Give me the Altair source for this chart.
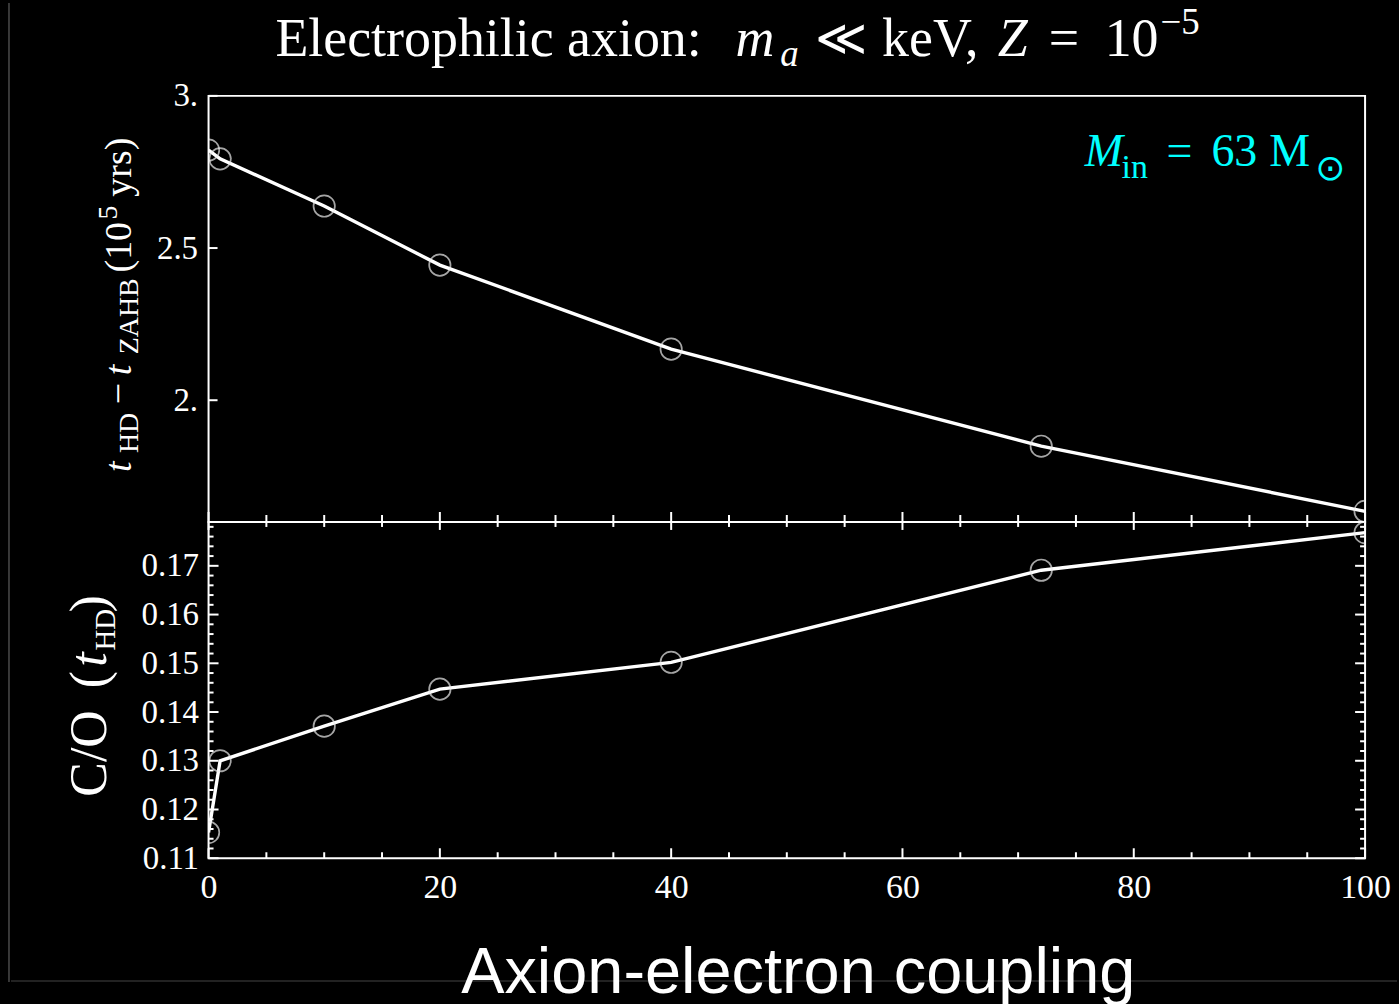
import altair as alt
import pandas as pd

# Axion-electron coupling values and the two quantities tracked per model
coupling = [0, 1, 10, 20, 40, 72, 100]
delta_t = [2.822, 2.793, 2.638, 2.444, 2.168, 1.849, 1.635]      # t_HD - t_ZAHB, 10^5 yr
c_over_o = [0.1153, 0.1300, 0.1371, 0.1447, 0.1502, 0.1691, 0.1768]  # C/O at t_HD

# Tick positions
x_major = [0, 20, 40, 60, 80, 100]
x_minor = [5, 10, 15, 25, 30, 35, 45, 50, 55, 65, 70, 75, 85, 90, 95]
top_y_major = [2.0, 2.5, 3.0]
bot_y_major = [0.11, 0.12, 0.13, 0.14, 0.15, 0.16, 0.17]
bot_y_minor = [0.112, 0.114, 0.116, 0.118, 0.122, 0.124, 0.126, 0.128,
               0.132, 0.134, 0.136, 0.138, 0.142, 0.144, 0.146, 0.148,
               0.152, 0.154, 0.156, 0.158, 0.162, 0.164, 0.166, 0.168,
               0.172, 0.174, 0.176, 0.178]

SERIF = "Liberation Serif"
SANS = "Liberation Sans"
W, H1, H2 = 1159, 427, 337

df = pd.DataFrame({"coupling": coupling, "delta_t": delta_t, "c_over_o": c_over_o})
one = pd.DataFrame({"k": [0]})

x_scale = alt.Scale(domain=[0, 100], nice=False, zero=False)
top_scale = alt.Scale(domain=[1.6, 3.0], nice=False, zero=False)
bot_scale = alt.Scale(domain=[0.11, 0.179], nice=False, zero=False)

label_style = dict(labelFont=SERIF, labelColor="white", ticks=False,
                   domain=False, grid=False, title=None, labelFlush=False)

# The same axis object is given to every layer sharing a scale, so that the
# layered axes merge cleanly.
top_y_axis = alt.Axis(values=top_y_major, labelPadding=11, labelFontSize=33,
                      labelExpr="replace(format(datum.value, '.1f'), '.0', '.')",
                      **label_style)
bot_x_axis = alt.Axis(values=x_major, format="d", labelPadding=12,
                      labelFontSize=34, **label_style)
bot_y_axis = alt.Axis(values=bot_y_major, format=".2f", labelPadding=10,
                      labelFontSize=33, **label_style)


def piece(text, x, y, size, italic=False, color="white", angle=0,
          align="left", font=SERIF):
    return alt.Chart(one).mark_text(
        text=text, fontSize=size, font=font, color=color, angle=angle,
        align=align, baseline="alphabetic",
        fontStyle="italic" if italic else "normal",
    ).encode(x=alt.value(x), y=alt.value(y))


def xrules(values, y1, y2, axis):
    d = pd.DataFrame({"v": values})
    return alt.Chart(d).mark_rule(color="white", strokeWidth=2).encode(
        x=alt.X("v:Q", scale=x_scale, axis=axis),
        y=alt.value(y1), y2=alt.value(y2))


def yrules(values, scale, x1, x2, axis):
    d = pd.DataFrame({"v": values})
    return alt.Chart(d).mark_rule(color="white", strokeWidth=2).encode(
        y=alt.Y("v:Q", scale=scale, axis=axis),
        x=alt.value(x1), x2=alt.value(x2))


def edge(x1, x2, y1, y2, color):
    return alt.Chart(one).mark_rule(color=color, strokeWidth=1.5).encode(
        x=alt.value(x1), x2=alt.value(x2), y=alt.value(y1), y2=alt.value(y2))


# ---------- upper panel: lifetime difference ----------
top_base = alt.Chart(df).encode(
    x=alt.X("coupling:Q", scale=x_scale, axis=None),
    y=alt.Y("delta_t:Q", scale=top_scale, axis=top_y_axis),
)
top_line = top_base.mark_line(color="white", strokeWidth=3.4, clip=True)
top_pts = top_base.mark_point(shape="circle", filled=False, size=460,
                              stroke="#ececec", strokeWidth=1.7, clip=True)

canvas = alt.Chart(one).mark_rule(strokeOpacity=0, strokeWidth=0).encode(
    x=alt.value(-208), x2=alt.value(1191), y=alt.value(-93), y2=alt.value(911))

title_parts = [
    piece("Electrophilic axion:", 67, -40, 54),
    piece("m", 528, -40, 54, italic=True),
    piece("a", 573, -30, 37, italic=True),
    piece("\u226a", 608, -41, 50, font="DejaVu Serif"),
    piece("keV,", 675, -40, 54),
    piece("Z", 791, -40, 54, italic=True),
    piece("=", 842, -40, 54),
    piece("10", 898, -40, 54),
    piece("\u22125", 954, -62, 37),
]

CYAN = "#00ffff"
mass_parts = [
    piece("M", 878, 70, 46, italic=True, color=CYAN),
    piece("in", 915, 82, 34, color=CYAN),
    piece("=", 960, 70, 46, color=CYAN),
    piece("63", 1005, 70, 46, color=CYAN),
    piece("M", 1063, 70, 46, color=CYAN),
    piece("\u2299", 1109, 84, 36, color=CYAN, font="DejaVu Sans"),
]

top_ylabel = [
    piece("t", -78, 377, 38, italic=True, angle=270),
    piece("HD", -71, 358, 28, angle=270),
    piece("\u2212", -78, 309, 38, angle=270),
    piece("t", -78, 280, 38, italic=True, angle=270),
    piece("ZAHB", -71, 259, 28, angle=270),
    piece("(10", -78, 177, 38, angle=270),
    piece("5", -92, 124, 28, angle=270),
    piece("yrs)", -78, 101, 38, angle=270),
]

top = alt.layer(
    top_line, top_pts,
    yrules(top_y_major, top_scale, 0, 9, top_y_axis),
    xrules(x_major, H1 - 10, H1 + 8, None),
    xrules(x_minor, H1 - 7, H1 + 5, None),
    canvas,
    *title_parts, *mass_parts, *top_ylabel,
).properties(width=W, height=H1)

# ---------- lower panel: C/O ratio ----------
bot_base = alt.Chart(df).encode(
    x=alt.X("coupling:Q", scale=x_scale, axis=bot_x_axis),
    y=alt.Y("c_over_o:Q", scale=bot_scale, axis=bot_y_axis),
)
bot_line = bot_base.mark_line(color="white", strokeWidth=3.4, clip=True)
bot_pts = bot_base.mark_point(shape="circle", filled=False, size=460,
                              stroke="#ececec", strokeWidth=1.7, clip=True)

bot_ylabel = [
    piece("C/O", -103, 232, 52, angle=270, align="center"),
    piece("(", -103, 158, 52, angle=270, align="center"),
    piece("t", -103, 138, 52, italic=True, angle=270, align="center"),
    piece("HD", -94, 108, 29, angle=270, align="center"),
    piece(")", -103, 82, 52, angle=270, align="center"),
]

# thin frame lines along the left and lower page edges
frame_lines = [
    edge(-200, -200, -520, 461, "#4a4a4a"),
    edge(-198, 1191, 460, 460, "#2e2e2e"),
]

x_title = piece("Axion-electron coupling", 591, 472, 65, align="center", font=SANS)

bottom = alt.layer(
    bot_line, bot_pts,
    yrules(bot_y_major, bot_scale, 0, 10, bot_y_axis),
    yrules(bot_y_minor, bot_scale, 0, 5, bot_y_axis),
    yrules(bot_y_major, bot_scale, W, W - 10, bot_y_axis),
    yrules(bot_y_minor, bot_scale, W, W - 5, bot_y_axis),
    xrules(x_major, H2, H2 - 10, bot_x_axis),
    xrules(x_minor, H2, H2 - 6, bot_x_axis),
    *frame_lines,
    *bot_ylabel, x_title,
).properties(width=W, height=H2)

chart = alt.vconcat(top, bottom, spacing=0, bounds="flush").properties(
    padding=0
).configure(background="black").configure_view(stroke="white", strokeWidth=2)

chart.save("out.html", embed_options={"renderer": "svg", "actions": False})
